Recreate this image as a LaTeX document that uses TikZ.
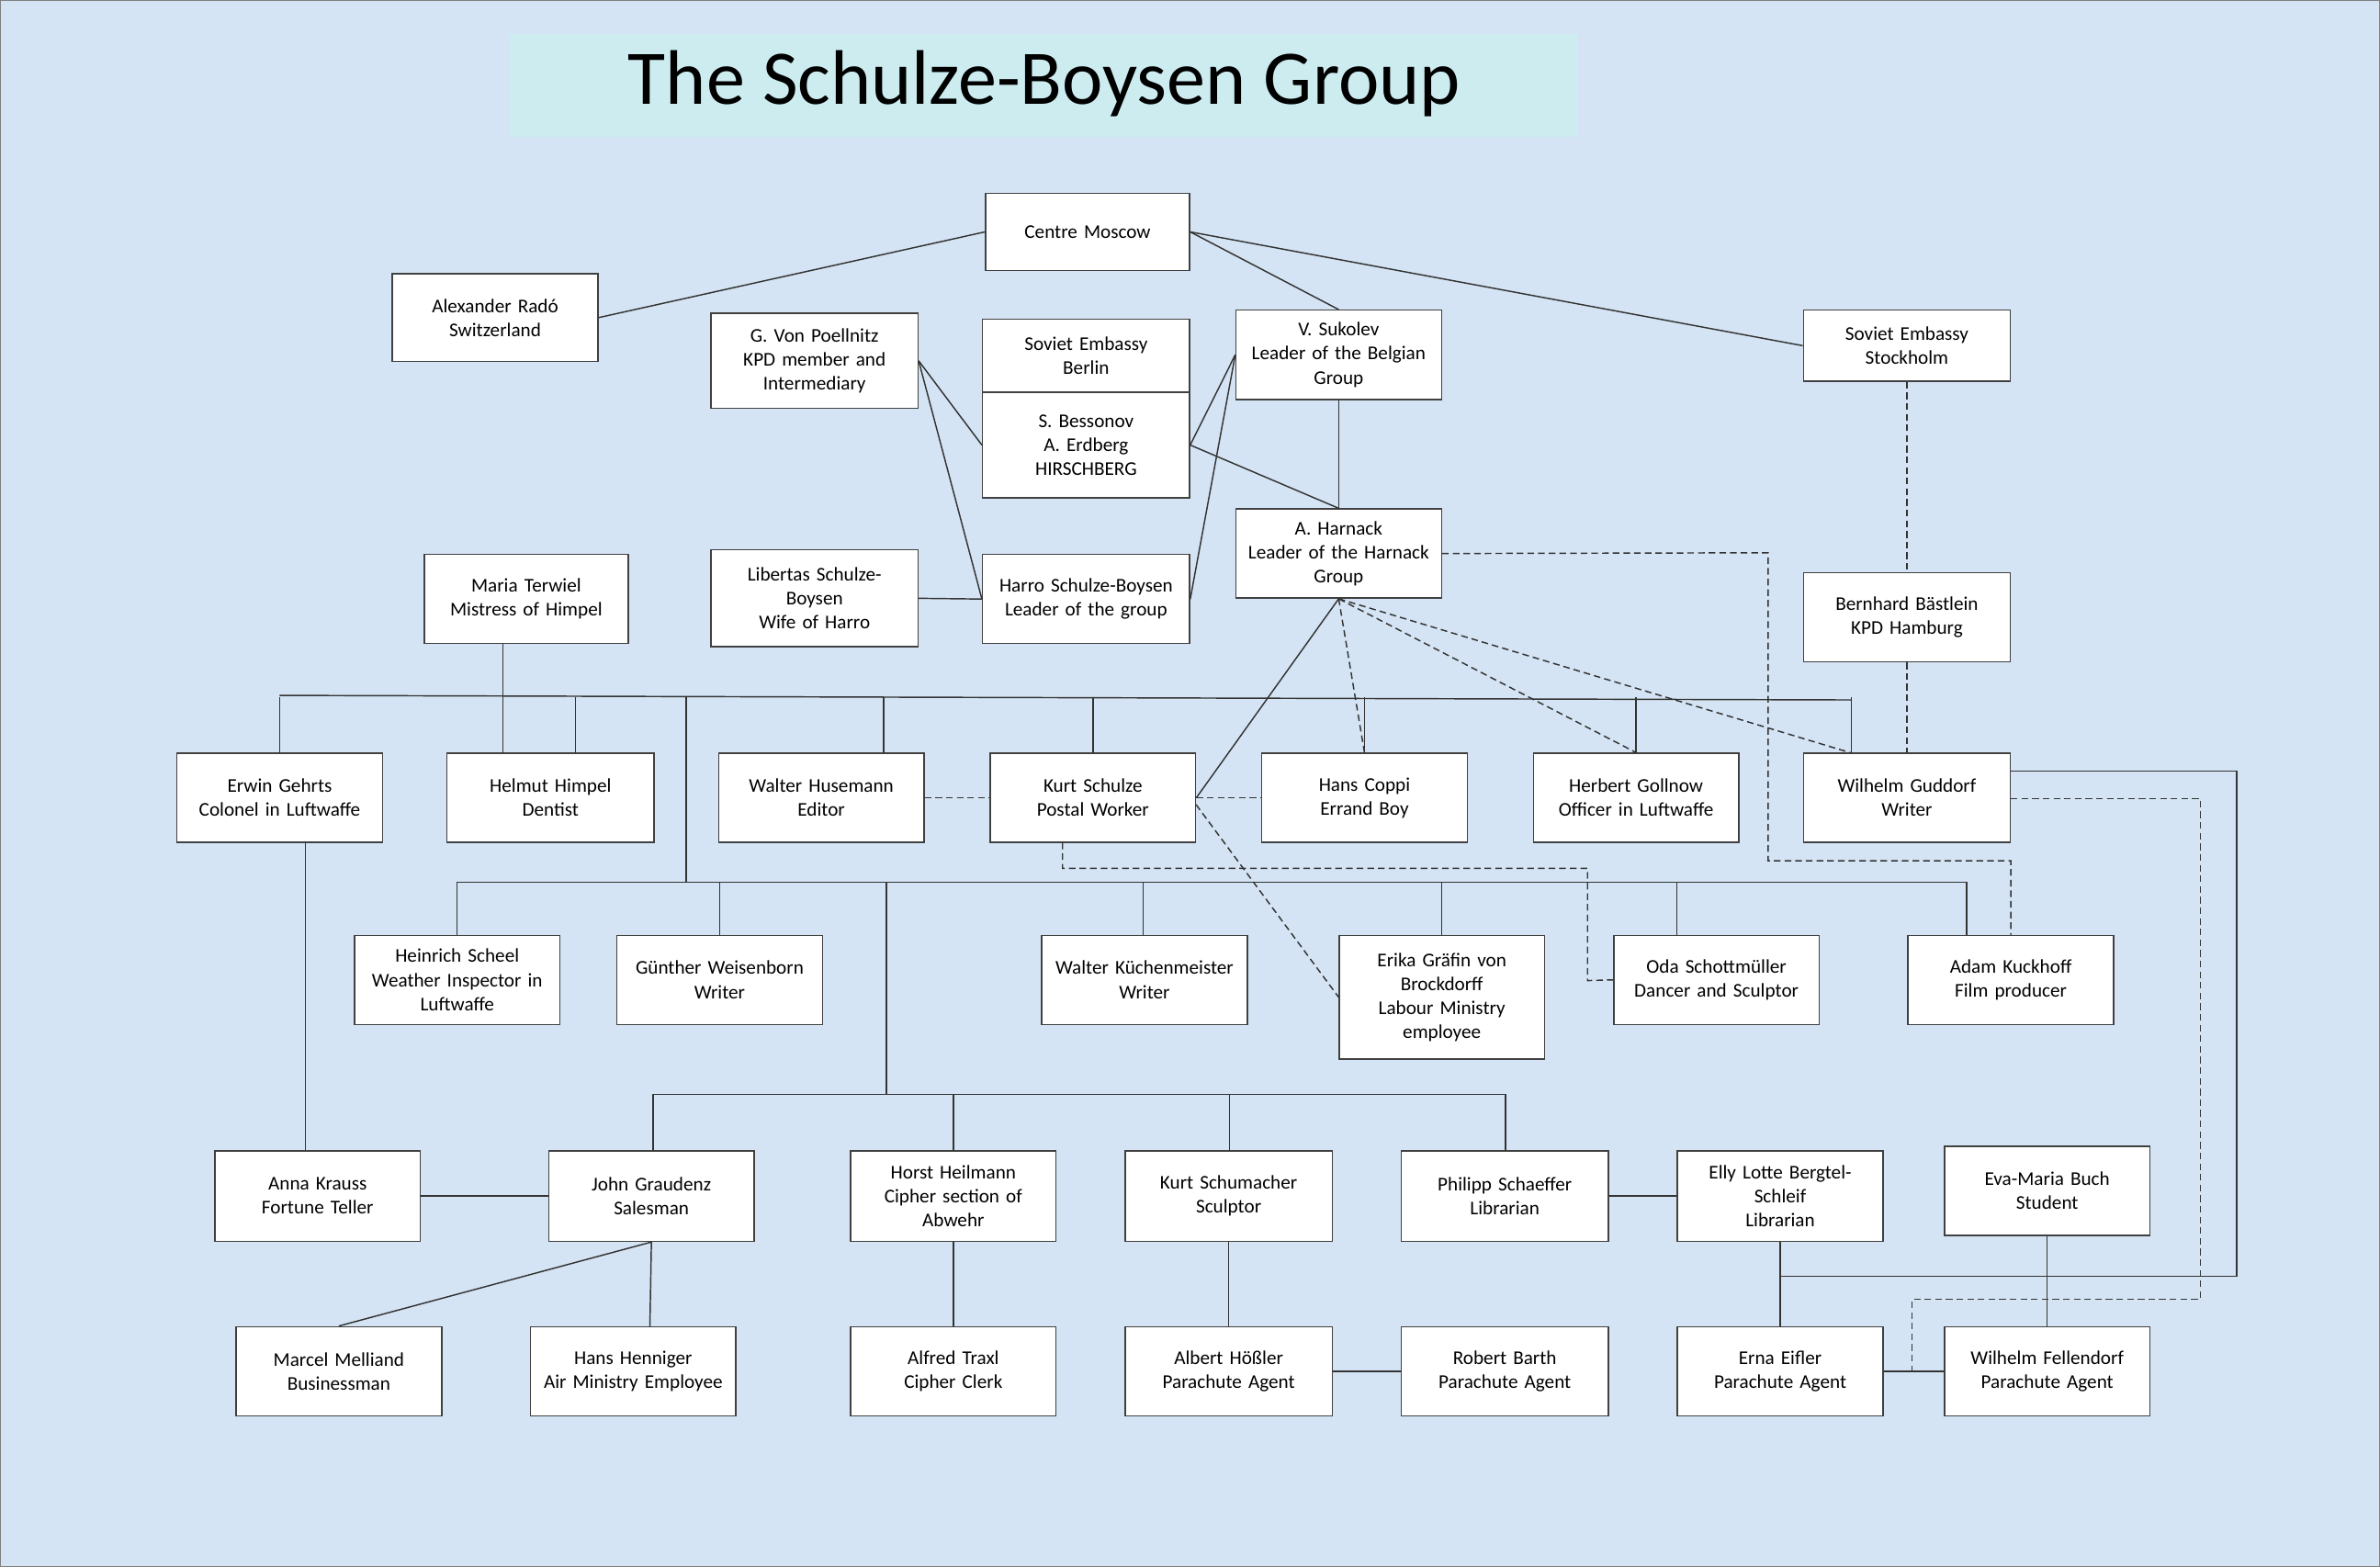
\documentclass[tikz,border=0pt]{standalone}
\usepackage{fontspec}
\setmainfont{Carlito}
\usetikzlibrary{calc}
\definecolor{bgc}{RGB}{212,228,244}
\definecolor{titc}{RGB}{205,236,240}
\begin{document}
\begin{tikzpicture}[x=0.02cm,y=-0.02cm,
  bx/.style={draw=black!75,fill=white,line width=0.5pt,inner sep=1pt,align=center,font=\fontsize{7.3pt}{9pt}\selectfont},
  ln/.style={draw=black!80,line width=0.5pt},
  dl/.style={draw=black!80,line width=0.5pt,dash pattern=on 2.5pt off 1.5pt}]
\newcommand\bx[6]{\node[bx,minimum width={(#4-#2)*0.5669pt},minimum height={(#5-#3)*0.5669pt},text width={(#4-#2-8)*0.5669pt}] (#1) at ({(#2+#4)/2},{(#3+#5)/2}) {#6};}
\fill[bgc,draw=black!50] (0,0) rectangle (1568,1032);
\useasboundingbox (0,0) rectangle (1568,1032);
\fill[titc] (335,22) rectangle (1040,90);
\node[font=\fontsize{29pt}{34pt}\selectfont] (title) at (688,55) {The Schulze-Boysen Group};
\bx{cm}{649}{127}{784}{178}{Centre Moscow}
\bx{rado}{258}{180}{394}{238}{Alexander Radó\\Switzerland}
\bx{poel}{468}{206}{605}{269}{G. Von Poellnitz\\KPD member and\\Intermediary}
\bx{seb}{647}{210}{784}{258}{Soviet Embassy\\Berlin}
\bx{bess}{647}{258}{784}{328}{S. Bessonov\\A. Erdberg\\HIRSCHBERG}
\bx{suk}{814}{204}{950}{263}{V. Sukolev\\Leader of the Belgian\\Group}
\bx{ses}{1188}{204}{1325}{251}{Soviet Embassy\\Stockholm}
\bx{terw}{279}{365}{414}{424}{Maria Terwiel\\Mistress of Himpel}
\bx{lib}{468}{362}{605}{426}{Libertas Schulze-\\Boysen\\Wife of Harro}
\bx{harro}{647}{365}{784}{424}{Harro Schulze-Boysen\\Leader of the group}
\bx{harn}{814}{335}{950}{394}{A. Harnack\\Leader of the Harnack\\Group}
\bx{baes}{1188}{377}{1325}{436}{Bernhard Bästlein\\KPD Hamburg}
\bx{gehr}{116}{496}{252}{555}{Erwin Gehrts\\Colonel in Luftwaffe}
\bx{himp}{294}{496}{431}{555}{Helmut Himpel\\Dentist}
\bx{huse}{473}{496}{609}{555}{Walter Husemann\\Editor}
\bx{kurt}{652}{496}{788}{555}{Kurt Schulze\\Postal Worker}
\bx{coppi}{831}{496}{967}{555}{Hans Coppi\\Errand Boy}
\bx{goll}{1010}{496}{1146}{555}{Herbert Gollnow\\Officer in Luftwaffe}
\bx{gudd}{1188}{496}{1325}{555}{Wilhelm Guddorf\\Writer}
\bx{scheel}{233}{616}{369}{675}{Heinrich Scheel\\Weather Inspector in\\Luftwaffe}
\bx{weis}{406}{616}{542}{675}{Günther Weisenborn\\Writer}
\bx{kuech}{686}{616}{822}{675}{Walter Küchenmeister\\Writer}
\bx{erika}{882}{616}{1018}{698}{Erika Gräfin von\\Brockdorff\\Labour Ministry\\employee}
\bx{oda}{1063}{616}{1199}{675}{Oda Schottmüller\\Dancer and Sculptor}
\bx{adam}{1257}{616}{1393}{675}{Adam Kuckhoff\\Film producer}
\bx{anna}{141}{758}{277}{818}{Anna Krauss\\Fortune Teller}
\bx{grau}{361}{758}{497}{818}{John Graudenz\\Salesman}
\bx{heil}{560}{758}{696}{818}{Horst Heilmann\\Cipher section of\\Abwehr}
\bx{schu}{741}{758}{878}{818}{Kurt Schumacher\\Sculptor}
\bx{scha}{923}{758}{1060}{818}{Philipp Schaeffer\\Librarian}
\bx{elly}{1105}{758}{1241}{818}{Elly Lotte Bergtel-\\Schleif\\Librarian}
\bx{eva}{1281}{755}{1417}{814}{Eva-Maria Buch\\Student}
\bx{marc}{155}{874}{291}{933}{Marcel Melliand\\Businessman}
\bx{henn}{349}{874}{485}{933}{Hans Henniger\\Air Ministry Employee}
\bx{traxl}{560}{874}{696}{933}{Alfred Traxl\\Cipher Clerk}
\bx{hoes}{741}{874}{878}{933}{Albert Hößler\\Parachute Agent}
\bx{barth}{923}{874}{1060}{933}{Robert Barth\\Parachute Agent}
\bx{erna}{1105}{874}{1241}{933}{Erna Eifler\\Parachute Agent}
\bx{fell}{1281}{874}{1417}{933}{Wilhelm Fellendorf\\Parachute Agent}
% top connections
\draw[ln] (cm.west) -- (rado.east);
\draw[ln] (cm.east) -- (suk.north);
\draw[ln] (cm.east) -- (ses.west);
\draw[ln] (poel.east) -- (bess.west);
\draw[ln] (poel.east) -- (harro.west);
\draw[ln] (bess.east) -- (suk.west);
\draw[ln] (bess.east) -- (harn.north);
\draw[ln] (harro.east) -- (suk.west);
\draw[ln] (suk.south) -- (harn.north);
\draw[ln] (lib.east) -- (harro.west);
\draw[dl] (ses.south) -- (baes.north);
\draw[dl] (baes.south) -- (gudd.north);
\draw[ln] (harn.south) -- (kurt.east);
\draw[dl] (harn.south) -- (coppi.north);
\draw[dl] (harn.south) -- (goll.north);
\draw[dl] (harn.south) -- (1220,496);
\draw[dl] (harn.east) -- (1165,364) -- (1165,567) -- (1325,567) -- (adam.north);
% first bus
\draw[ln] (184,458) -- (1220,461);
\draw[ln] (331,424) -- (331,496);
\foreach \x in {184,379,582,720,899,1078,1220} \draw[ln] (\x,459) -- (\x,496);
\draw[ln] (452,459) -- (452,581);
\draw[dl] (huse.east) -- (kurt.west);
\draw[dl] (kurt.east) -- (coppi.west);
\draw[dl] (700,555) -- (700,572) -- (1046,572) -- (1046,646) -- (oda.west);
\draw[dl] (788,530) -- (882,657);
\draw[dl] (1325,526) -- (1450,526) -- (1450,856) -- (1260,856) -- (1260,904);
\draw[ln] (1325,508) -- (1474,508) -- (1474,841) -- (1173,841);
% second bus
\draw[ln] (301,581) -- (1296,581);
\foreach \x in {301,474,753,950,1105,1296} \draw[ln] (\x,581) -- (\x,616);
\draw[ln] (584,581) -- (584,721);
\draw[ln] (201,555) -- (201,758);
% third bus
\draw[ln] (430,721) -- (992,721);
\foreach \x in {430,628,810,992} \draw[ln] (\x,721) -- (\x,758);
\draw[ln] (anna.east) -- (grau.west);
\draw[ln] (grau.south) -- (marc.north);
\draw[ln] (grau.south) -- (428,874);
\draw[ln] (heil.south) -- (traxl.north);
\draw[ln] (schu.south) -- (hoes.north);
\draw[ln] (hoes.east) -- (barth.west);
\draw[ln] (scha.east) -- (elly.west);
\draw[ln] (elly.south) -- (erna.north);
\draw[ln] (eva.south) -- (fell.north);
\draw[ln] (erna.east) -- (fell.west);
\end{tikzpicture}
\end{document}
